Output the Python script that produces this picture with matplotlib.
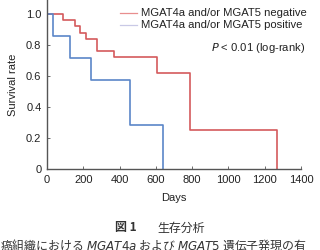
import matplotlib
matplotlib.use("Agg")
import matplotlib.pyplot as plt

# Kaplan-Meier steps
neg_days = [0, 88, 154, 182, 215, 276, 369, 606, 788, 1265]
neg_surv = [1.0, 0.96, 0.92, 0.88, 0.84, 0.76, 0.72, 0.62, 0.25, 0.0]
pos_days = [0, 33, 127, 243, 458, 638]
pos_surv = [1.0, 0.857, 0.714, 0.571, 0.286, 0.0]

xticks = [0, 200, 400, 600, 800, 1000, 1200, 1400]
yticks = [0, 0.2, 0.4, 0.6, 0.8, 1.0]
ytick_labels = ["0", "0.2", "0.4", "0.6", "0.8", "1.0"]

plt.rcParams['font.family'] = ['Liberation Sans', 'DejaVu Sans']

fig = plt.figure(figsize=(3.2, 2.5), dpi=100)
ax = fig.add_axes([47 / 320, 81 / 250, 254 / 320, 169 / 250])

ax.step(neg_days, neg_surv, where='post', color='#d45a5c', lw=1.2)
ax.step(pos_days, pos_surv, where='post', color='#5b86c8', lw=1.2)

ax.set_xlim(0, 1400)
ax.set_ylim(0, 1.09)
ax.set_xticks(xticks)
ax.set_yticks(yticks)
ax.set_yticklabels(ytick_labels)
for s in ['top', 'right']:
    ax.spines[s].set_visible(False)
for s in ['left', 'bottom']:
    ax.spines[s].set_color('#555555')
    ax.spines[s].set_linewidth(1.0)
ax.tick_params(direction='in', length=2, width=0.6, colors='#555555',
               labelcolor='#222222', labelsize=8, pad=4)
ax.set_xlabel("Days", fontsize=8, color='#222222', labelpad=6)
ax.set_ylabel("Survival rate", fontsize=8, color='#222222', labelpad=6)

# legend drawn by hand
lx0, lx1, tx = 120 / 320, 137 / 320, 141 / 320
fig.add_artist(plt.Line2D([lx0, lx1], [1 - 13 / 250] * 2, color='#e88e8e', lw=0.9))
fig.add_artist(plt.Line2D([lx0, lx1], [1 - 25 / 250] * 2, color='#c9c9e6', lw=0.9))
fig.text(tx, 1 - 13 / 250, "MGAT4a and/or MGAT5 negative", fontsize=8.1,
         va='center', color='#222222')
fig.text(tx, 1 - 25 / 250, "MGAT4a and/or MGAT5 positive", fontsize=8.1,
         va='center', color='#222222')
fig.text(305 / 320, 1 - 48 / 250, r"$\it{P}$ < 0.01 (log-rank)", fontsize=8.1,
         ha='right', va='center', color='#222222')

# caption
jp = ['Noto Sans CJK JP', 'DejaVu Sans']
fig.text(115 / 320, 1 - 228 / 250, "図 1", fontsize=8.6, fontweight='bold',
         ha='left', va='center', family=jp, color='#333333')
fig.text(157 / 320, 1 - 228 / 250, "生存分析", fontsize=8.6,
         ha='left', va='center', family=jp, color='#333333')
fig.text(0.0, 1 - 245 / 250,
         "癌組織における $\\it{MGAT4a}$ および $\\it{MGAT5}$ 遺伝子発現の有",
         fontsize=8.6, ha='left', va='center', family=jp, color='#333333')

fig.savefig("out.png", dpi=100)
